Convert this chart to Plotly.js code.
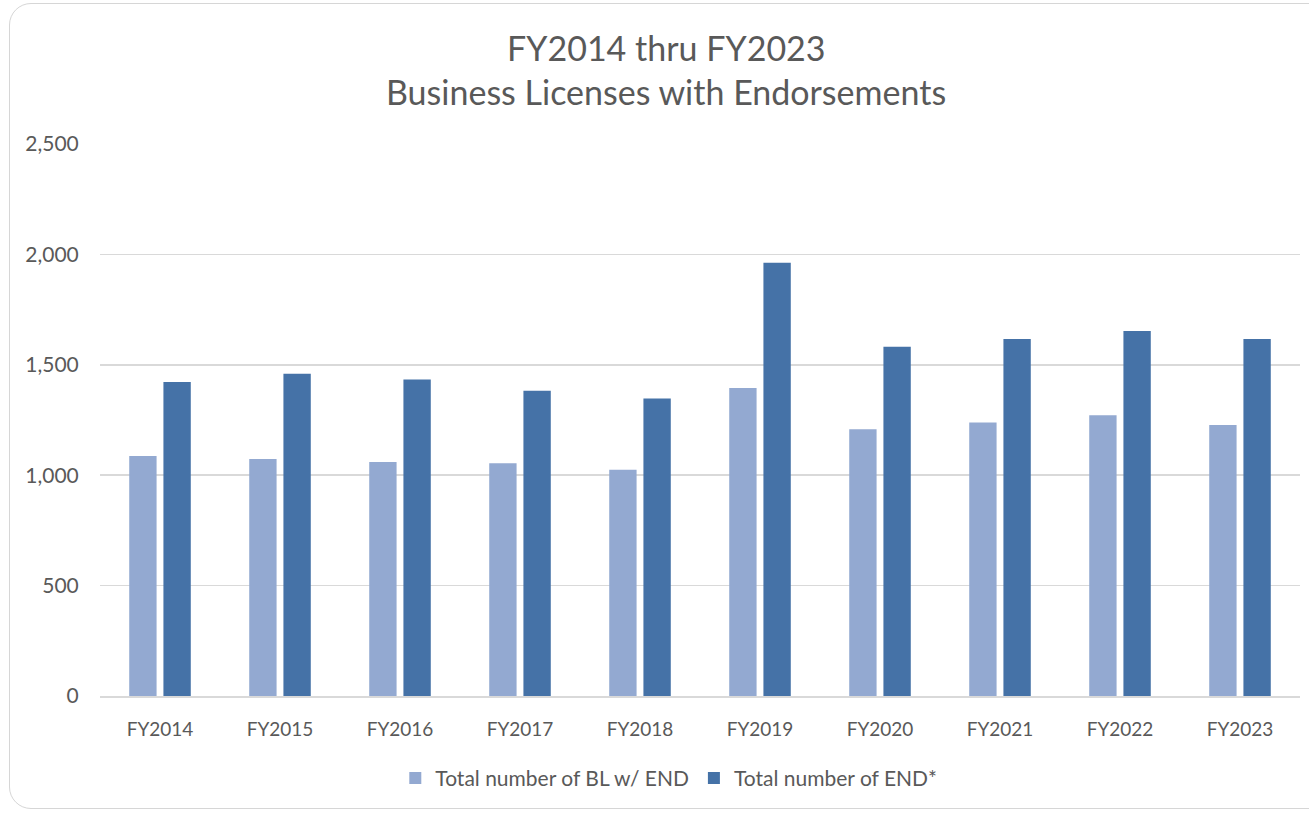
<!DOCTYPE html>
<html>
<head>
<meta charset="utf-8">
<script src="https://cdn.plot.ly/plotly-3.0.1.min.js"></script>
<style>
  html, body { margin: 0; padding: 0; background: #ffffff; overflow: hidden; }
  #card { position: absolute; left: 9px; top: 3px; width: 1330px; height: 806px;
          border: 1.5px solid #d6d6d6; border-radius: 22px; box-sizing: border-box; }
  #chart { position: absolute; left: 0; top: 0; width: 1309px; height: 813px; }
</style>
</head>
<body>
<div id="card"></div>
<div id="chart"></div>
<script>
const categories = ["FY2014","FY2015","FY2016","FY2017","FY2018","FY2019","FY2020","FY2021","FY2022","FY2023"];
const blWithEnd = [1087, 1073, 1060, 1054, 1025, 1395, 1208, 1239, 1272, 1227];
const totalEnd  = [1422, 1460, 1433, 1382, 1347, 1962, 1582, 1617, 1653, 1617];
const seriesNames = ["Total number of BL w/ END", "Total number of END*"];
const titleLines = ["FY2014 thru FY2023", "Business Licenses with Endorsements"];

const fontFam = "Lato, 'Open Sans', sans-serif";
const textColor = "#595959";

const traces = [
  { type: "bar", name: seriesNames[0], x: categories, y: blWithEnd,
    marker: { color: "#93A9D1" }, hoverinfo: "x+y" },
  { type: "bar", name: seriesNames[1], x: categories, y: totalEnd,
    marker: { color: "#4572A7" }, hoverinfo: "x+y" }
];

const layout = {
  width: 1309, height: 813, autosize: false,
  paper_bgcolor: "rgba(0,0,0,0)", plot_bgcolor: "rgba(0,0,0,0)",
  margin: { l: 100, r: 9, t: 144, b: 117, autoexpand: false },
  barmode: "group", bargap: 0.43, bargroupgap: 0.2,
  font: { family: fontFam, color: textColor, size: 19 },
  showlegend: true,
  legend: { orientation: "h", x: 0.474, xanchor: "center", y: -0.149, yanchor: "middle",
            font: { size: 21, color: textColor }, itemwidth: 30, traceorder: "normal" },
  xaxis: { type: "category", showgrid: false, showline: true, linecolor: "#d9d9d9", linewidth: 1.5,
           ticks: "outside", ticklen: 16, tickcolor: "rgba(0,0,0,0)",
           tickfont: { size: 19, color: textColor } },
  yaxis: { range: [0, 2500], dtick: 500, tickformat: ",", showgrid: true, gridcolor: "#d9d9d9",
           gridwidth: 1.5, zeroline: false, showline: false,
           ticks: "outside", ticklen: 16, tickcolor: "rgba(0,0,0,0)",
           tickfont: { size: 21, color: textColor } },
  annotations: [
    { text: titleLines[0], xref: "paper", yref: "paper", x: 0.4717, y: 1, yshift: 97,
      xanchor: "center", yanchor: "middle", showarrow: false, font: { size: 34, color: textColor } },
    { text: titleLines[1], xref: "paper", yref: "paper", x: 0.4717, y: 1, yshift: 53,
      xanchor: "center", yanchor: "middle", showarrow: false, font: { size: 34, color: textColor } }
  ]
};

Plotly.newPlot("chart", traces, layout, { displayModeBar: false, staticPlot: true });
</script>
</body>
</html>
